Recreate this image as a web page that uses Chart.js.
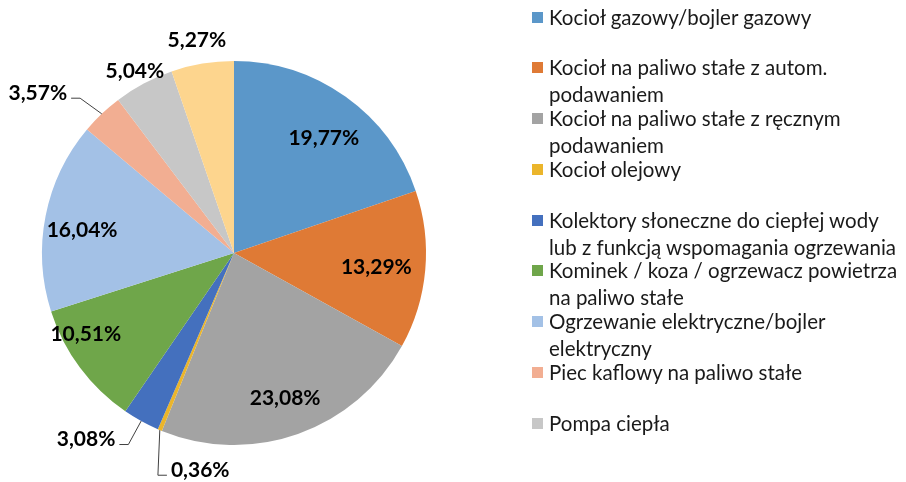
<!DOCTYPE html>
<html>
<head>
<meta charset="utf-8">
<script src="https://cdn.jsdelivr.net/npm/chart.js@4.4.0/dist/chart.umd.min.js"></script>
<style>
  html, body { margin: 0; padding: 0; background: #fff; }
  #wrap { position: relative; width: 906px; height: 482px; overflow: hidden; }
  #chart { position: absolute; left: 0; top: 0; }
  #legend { position: absolute; left: 0; top: 0; font-family: Lato, "Open Sans", sans-serif; font-size: 20.5px; color: #1a1a1a; }
  .item { position: absolute; left: 549px; line-height: 27px; white-space: nowrap; }
  .box { position: absolute; left: -17px; top: 8px; width: 11px; height: 11px; }
</style>
</head>
<body>
<div id="wrap">
  <canvas id="chart" width="906" height="482"></canvas>
  <div id="legend"></div>
</div>
<script>
var labels = [
	['Kocioł gazowy/bojler gazowy'],
	['Kocioł na paliwo stałe z autom.', 'podawaniem'],
	['Kocioł na paliwo stałe z ręcznym', 'podawaniem'],
	['Kocioł olejowy'],
	['Kolektory słoneczne do ciepłej wody', 'lub z funkcją wspomagania ogrzewania'],
	['Kominek / koza / ogrzewacz powietrza', 'na paliwo stałe'],
	['Ogrzewanie elektryczne/bojler', 'elektryczny'],
	['Piec kaflowy na paliwo stałe'],
	['Pompa ciepła'],
	['Inne']
];
var values = [19.77, 13.29, 23.08, 0.36, 3.08, 10.51, 16.04, 3.57, 5.04, 5.27];
var colors = ['#5B97C9', '#DF7A35', '#A3A3A3', '#EBB52B', '#4470BE', '#6FA64A', '#A3C1E6', '#F2AE92', '#C7C7C7', '#FDD58E'];
// label placement: [radius factor, angle nudge in degrees, leader side (0 none, 1 text left of line, -1 text right of line)]
var labelPlace = [
	[0.76, 2.4, 0], [0.745, 0.5, 0], [0.80, 0, 0], [1.145, -13.9, -1], [1.24, 9.5, 1],
	[0.88, 7.9, 0], [0.80, -2.6, 0], [1.318, -7.3, 1], [1.08, -0.5, 0], [1.125, -0.4, 0]
];
var legendCount = 9;

function fmt(v) { return v.toFixed(2).replace('.', ',') + '%'; }

var pieLabels = {
	id: 'pieLabels',
	afterDatasetsDraw: function(chart) {
		var c = chart.ctx;
		var arcs = chart.getDatasetMeta(0).data;
		c.save();
		c.font = 'bold 21px Lato, "Open Sans", sans-serif';
		c.fillStyle = '#000';
		c.textAlign = 'center';
		c.textBaseline = 'middle';
		arcs.forEach(function(a, i) {
			var p = labelPlace[i];
			var mid = (a.startAngle + a.endAngle) / 2;
			var ang = mid + p[1] * Math.PI / 180;
			var tx = a.x + Math.cos(ang) * a.outerRadius * p[0];
			var ty = a.y + Math.sin(ang) * a.outerRadius * p[0];
			var txt = fmt(values[i]);
			c.fillText(txt, tx, ty);
			if (p[2] !== 0) {
				var w = c.measureText(txt).width;
				var ex = tx + p[2] * (w / 2 + 4);
				var ly = ty + 5;
				var ax = a.x + Math.cos(mid) * a.outerRadius;
				var ay = a.y + Math.sin(mid) * a.outerRadius;
				c.beginPath();
				c.strokeStyle = '#404040';
				c.lineWidth = 1;
				c.moveTo(ex, ly);
				c.lineTo(ex + p[2] * 9, ly);
				c.lineTo(ax, ay);
				c.stroke();
			}
		});
		c.restore();
	}
};

var ctx = document.getElementById('chart').getContext('2d');
var chart = new Chart(ctx, {
	type: 'pie',
	data: {
		labels: labels.map(function(l) { return l.join(' '); }),
		datasets: [{
			data: values,
			backgroundColor: colors,
			borderWidth: 0
		}]
	},
	options: {
		responsive: false,
		animation: false,
		layout: { padding: { top: 61, bottom: 37, left: 42, right: 480 } },
		plugins: {
			legend: { display: false },
			tooltip: { enabled: false }
		}
	},
	plugins: [pieLabels]
});

// legend built from the same arrays
var lg = document.getElementById('legend');
for (var i = 0; i < legendCount; i++) {
	var d = document.createElement('div');
	d.className = 'item';
	d.style.top = (3.5 + i * 50.75) + 'px';
	d.innerHTML = '<span class="box" style="background:' + colors[i] + '"></span>' + labels[i].join('<br>');
	lg.appendChild(d);
}
</script>
</body>
</html>
